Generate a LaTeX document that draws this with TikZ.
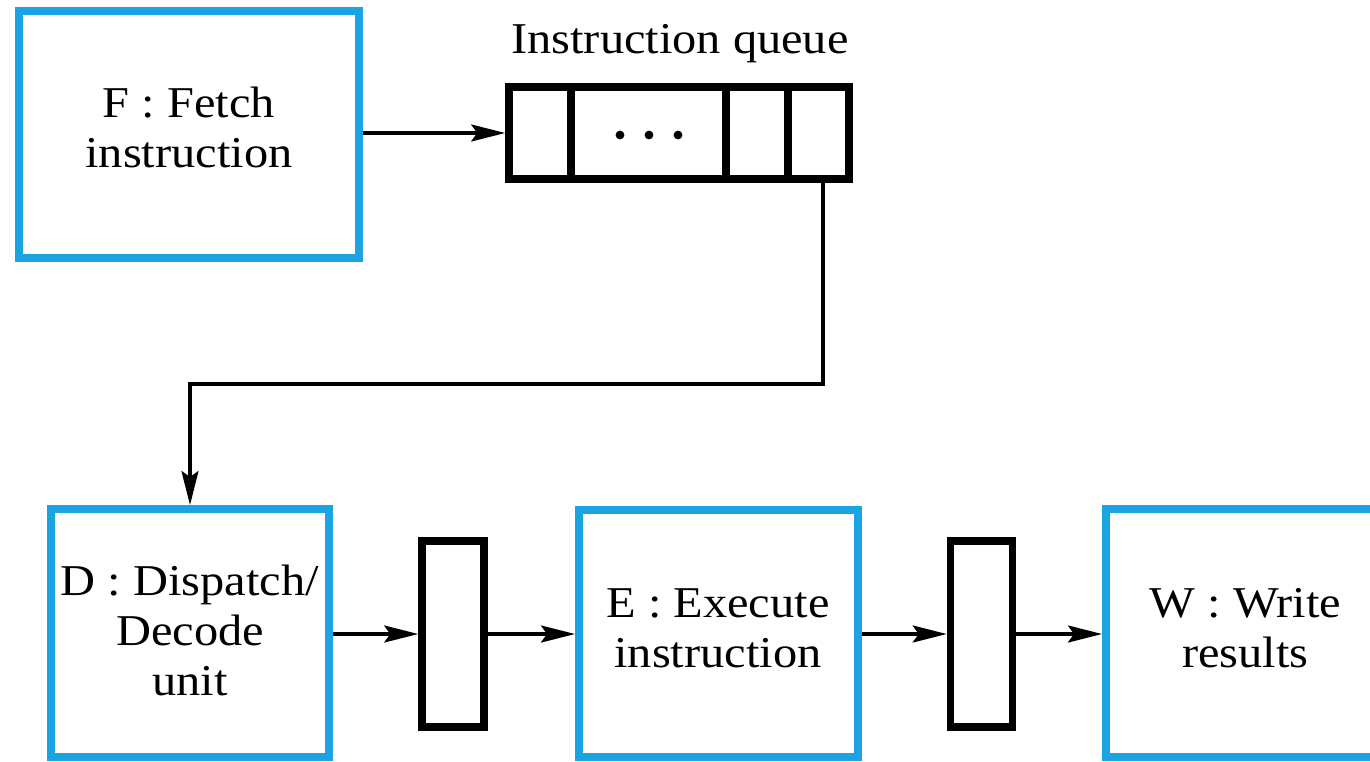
\documentclass[tikz,border=0pt]{standalone}
\usepackage{fontspec}
\setmainfont[FakeStretch=1.1]{Liberation Serif}
\usetikzlibrary{arrows.meta}
\definecolor{boxblue}{RGB}{28,163,225}
\begin{document}
\begin{tikzpicture}[x=0.5pt,y=-0.5pt,
  stage/.style={draw=boxblue,line width=4pt,inner sep=0pt,rectangle},
  reg/.style={draw=black,line width=3.8pt,inner sep=0pt,rectangle,minimum width=31pt,minimum height=93pt},
  lbl/.style={font=\fontsize{22}{25}\selectfont,align=center,inner sep=0pt},
  conn/.style={line width=1.6pt,-{Stealth[length=17pt,width=8.5pt,inset=3pt]}},
  qline/.style={line width=3.8pt}]
\useasboundingbox (0,0) rectangle (1370,761);
\clip (0,0) rectangle (1370,761);
% stage boxes
\node[stage,minimum width=170pt,minimum height=123.5pt] (F) at (189,134.5) {};
\node[stage,minimum width=139pt,minimum height=124pt] (D) at (190,633) {};
\node[stage,minimum width=139.5pt,minimum height=123.5pt] (E) at (718.5,633.5) {};
\node[stage,minimum width=139.5pt,minimum height=124pt] (W) at (1245.5,633) {};
% labels
\node[lbl] (Ft) at (189,127) {F : Fetch\\instruction};
\node[lbl] (Dt) at (190,630) {D : Dispatch/\\Decode\\unit};
\node[lbl] (Et) at (718,628) {E : Execute\\instruction};
\node[lbl] (Wt) at (1245.5,628) {W : Write\\results};
% instruction queue
\node[draw=black,line width=3.8pt,inner sep=0pt,rectangle,minimum width=170pt,minimum height=46pt] (Q) at (679,133) {};
\node[lbl,anchor=base] (Qt) at (680,53) {Instruction queue};
\draw[qline] (571,0 |- Q.north) -- (571,0 |- Q.south);
\draw[qline] (726,0 |- Q.north) -- (726,0 |- Q.south);
\draw[qline] (788,0 |- Q.north) -- (788,0 |- Q.south);
\fill (620,135) circle (2.2pt);
\fill (649,135) circle (2.2pt);
\fill (678,135) circle (2.2pt);
% registers
\node[reg] (R1) at (453,634) {};
\node[reg] (R2) at (981.5,634) {};
% connectors
\draw[conn] (F.east |- Q.west) -- (Q.west);
\coordinate (bend) at (823,384);
\draw[conn] (Q.south -| bend) -- (bend) -| (D.north);
\draw[conn] (D.east |- R1.west) -- (R1.west);
\draw[conn] (R1.east) -- (R1.east -| E.west);
\draw[conn] (E.east |- R2.west) -- (R2.west);
\draw[conn] (R2.east) -- (R2.east -| W.west);
\end{tikzpicture}
\end{document}
